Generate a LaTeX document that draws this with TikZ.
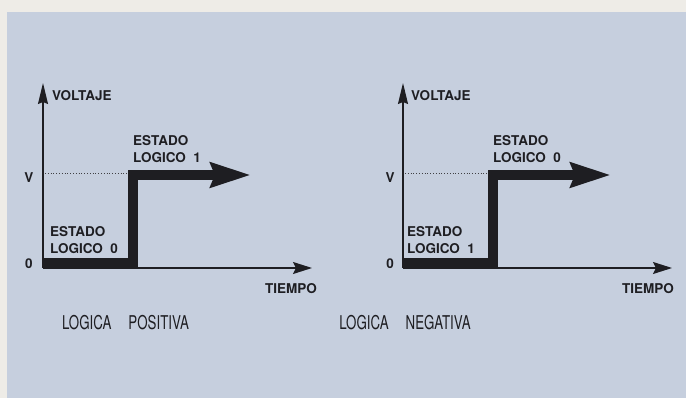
\documentclass[tikz,border=0pt]{standalone}
\usepackage{fontspec}
\setmainfont{TeX Gyre Heros}
\newfontfamily\titlefont[FakeStretch=0.7]{TeX Gyre Heros}
\usetikzlibrary{arrows.meta}
\definecolor{paper}{RGB}{238,236,231}
\definecolor{panel}{RGB}{198,207,222}
\definecolor{ink}{RGB}{30,30,34}

\begin{document}
\begin{tikzpicture}[x=1pt,y=-1pt,
axis/.style={draw=ink,line width=1.3pt},
xarrow/.style={axis,-{Stealth[length=19pt,width=12pt,inset=3pt]}},
yarrow/.style={axis,-{Stealth[length=21pt,width=10pt,inset=2pt]}},
signal/.style={draw=ink,line width=10pt,-{Stealth[length=40pt,width=24pt,inset=4pt]}},
level/.style={draw=ink!85,dotted,line width=0.8pt},
lbl/.style={text=ink,font=\fontsize{13.5}{16.5}\selectfont\bfseries,inner sep=0pt},
state/.style={lbl,align=left,anchor=west},
title/.style={text=ink,font=\titlefont\fontsize{19}{21}\selectfont,inner sep=0pt}
]
\fill[paper] (0,0) rectangle (686,398);
\fill[panel] (7,12) rectangle (686,398);

\coordinate (o1) at (43,268);
\coordinate (top1) at (43,83);
\coordinate (end1) at (312,268);
\coordinate (lo1) at (43,263);
\coordinate (up1) at (132.5,263);
\coordinate (hi1) at (132.5,175);
\coordinate (tip1) at (251,175);
\coordinate (dot1) at (45,173);
\coordinate (doe1) at (127,173);

\draw[yarrow] (o1) -- (top1);
\draw[xarrow] (o1) -- (end1);
\draw[level] (dot1) -- (doe1);
\draw[signal] (lo1) -- (up1) -- (hi1) -- (tip1);

\node[lbl] (zero1) at (29,264) {0};
\node[lbl] (v1) at (29,178) {V};
\node[lbl,anchor=west] (volt1) at (52,96) {VOLTAJE};
\node[lbl] (time1) at (291,289) {TIEMPO};
\node[state] (high1) at (133,149) {ESTADO\\LOGICO\ \ 1};
\node[state] (low1) at (50,240) {ESTADO\\LOGICO\ \ 0};
\node[title] (pos) at (125.5,323) {LOGICA\hspace{0.9em}POSITIVA};

\coordinate (o2) at (403,268);
\coordinate (top2) at (403,83);
\coordinate (end2) at (672,268);
\coordinate (lo2) at (403,263);
\coordinate (up2) at (492.5,263);
\coordinate (hi2) at (492.5,175);
\coordinate (tip2) at (611,175);
\coordinate (dot2) at (405,173);
\coordinate (doe2) at (487,173);

\draw[yarrow] (o2) -- (top2);
\draw[xarrow] (o2) -- (end2);
\draw[level] (dot2) -- (doe2);
\draw[signal] (lo2) -- (up2) -- (hi2) -- (tip2);

\node[lbl] (zero2) at (390,264) {0};
\node[lbl] (v2) at (390,178) {V};
\node[lbl,anchor=west] (volt2) at (411,96) {VOLTAJE};
\node[lbl] (time2) at (648,289) {TIEMPO};
\node[state] (high2) at (493,149) {ESTADO\\LOGICO\ \ 0};
\node[state] (low2) at (407,240) {ESTADO\\LOGICO\ \ 1};
\node[title] (neg) at (405,323) {LOGICA\hspace{0.9em}NEGATIVA};
\end{tikzpicture}
\end{document}
